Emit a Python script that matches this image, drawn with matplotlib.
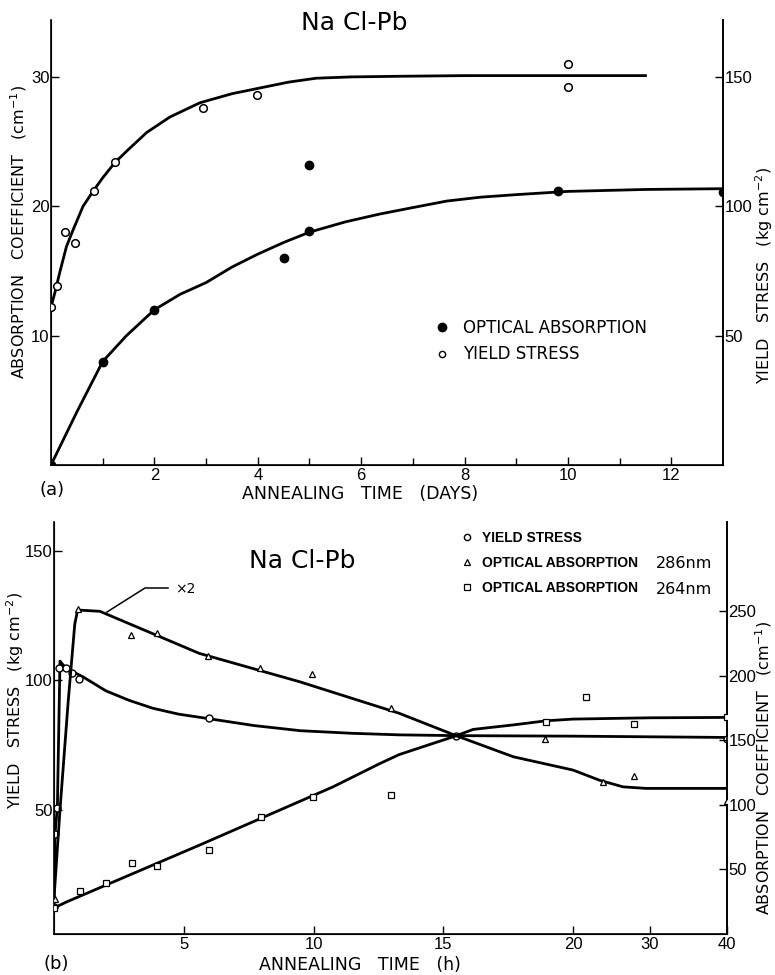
import numpy as np
import matplotlib
matplotlib.use("Agg")
import matplotlib.pyplot as plt
from matplotlib.lines import Line2D

plt.rcParams['font.family'] = ['DejaVu Sans']

# ---------------- Panel (a) data ----------------
# yield stress points (days, kg cm^-2)
a_ys_x = [0.0, 0.12, 0.28, 0.47, 0.84, 1.24, 2.94, 3.99, 10.0, 10.0]
a_ys_y = [61, 69, 90, 86, 106, 117, 138, 143, 155, 146]
# optical absorption points (days, cm^-1)
a_oa_x = [0.0, 1.0, 2.0, 4.5, 5.0, 5.0, 9.8, 13.0]
a_oa_y = [0.0, 8.0, 12.0, 16.0, 18.1, 23.2, 21.2, 21.1]
# fitted curves (left-axis units, cm^-1)
a_ys_cx = [0.0, 0.08, 0.17, 0.30, 0.43, 0.62, 0.82, 1.0, 1.24, 1.5, 1.85, 2.3, 2.88, 3.5, 4.17,
           4.6, 5.13, 5.8, 6.74, 8.0, 9.0, 10.0, 11.5]
a_ys_cy = [12.2, 13.4, 14.9, 16.9, 18.2, 20.0, 21.2, 22.2, 23.4, 24.4, 25.7, 26.9, 28.0, 28.7, 29.25,
           29.6, 29.9, 30.0, 30.05, 30.1, 30.1, 30.1, 30.1]
a_oa_cx = [0.0, 0.5, 1.0, 1.46, 2.0, 2.5, 3.0, 3.5, 4.0, 4.5, 5.0, 5.7, 6.36, 7.0, 7.65, 8.3, 9.0,
           10.0, 11.5, 13.0]
a_oa_cy = [0.0, 4.1, 8.0, 10.0, 12.0, 13.2, 14.1, 15.3, 16.3, 17.2, 18.0, 18.8, 19.4, 19.9, 20.4,
           20.7, 20.9, 21.15, 21.3, 21.36]

# ---------------- Panel (b) data ----------------
# yield stress (h, kg cm^-2)
b_ys_x = [0.0, 0.04, 0.13, 0.19, 0.45, 0.69, 0.96, 5.97, 15.48, 40.0]
b_ys_y = [12.4, 40.7, 50.6, 105, 105, 103, 100.6, 85.6, 78.7, 77.4]
b_ys_cx = [0.0, 0.04, 0.13, 0.23, 0.35, 0.6, 1.1, 2.0, 2.9, 3.8, 4.8, 6.0, 7.7, 9.5, 11.5, 13.3,
           15.5, 20.0, 40.0]
b_ys_cy = [13, 41, 51, 107.5, 106, 104, 101.5, 96, 92.3, 89.3, 87.0, 85.2, 82.6, 80.6, 79.6, 79.0,
           78.7, 78.5, 78.0]
# optical absorption 286 nm (h, cm^-1)
b_t_x = [0.04, 0.94, 2.96, 3.95, 5.94, 7.93, 9.96, 12.98, 18.9, 23.9, 27.9, 40.0]
b_t_y = [27.5, 251.6, 231.6, 233, 215.3, 205.8, 201.2, 174.8, 150.8, 117.9, 122.3, 103]
b_t_cx = [0.0, 0.23, 0.55, 0.8, 0.91, 1.77, 5.6, 9.47, 13.3, 15.5, 17.7, 20.0, 23.5, 26.5, 29.5,
          40.0]
b_t_cy = [27.5, 96, 181, 240, 251, 250, 217.4, 195.4, 171, 153.6, 137.3, 127, 119, 114, 112.8,
          112.8]
# optical absorption 264 nm (h, cm^-1)
b_s_x = [0.0, 1.0, 1.99, 2.99, 3.98, 5.98, 7.97, 9.98, 12.98, 18.95, 21.7, 27.9, 40.0]
b_s_y = [20.2, 33.4, 39.9, 55.1, 52.8, 65, 90.8, 106.3, 107.6, 164, 183.8, 162.4, 168.3]
b_s_cx = [0.0, 0.49, 5.6, 10.75, 12.55, 13.3, 15.5, 16.15, 17.7, 18.97, 20.0, 30.0, 40.0]
b_s_cy = [20.2, 24.9, 68.8, 114, 132, 139, 153.6, 158.5, 162, 165.2, 166.5, 167.5, 167.8]

W, H = 775, 975
fig = plt.figure(figsize=(W / 100, H / 100), dpi=100)

def fx(px):
    return px / W
def fy(py):
    return 1 - py / H

tick_fs = 12
lab_fs = 11.5
TICK_FAMILY = ['Liberation Sans', 'DejaVu Sans']

def narrow_ticks(ax):
    for lbl in ax.get_xticklabels() + ax.get_yticklabels():
        lbl.set_family(TICK_FAMILY)

# ================= Panel (a) =================
axa = fig.add_axes([fx(51), fy(465), (723 - 51) / W, (465 - 20) / H])
axa.set_xlim(0, 13)
axa.set_ylim(0, 34.4)
axa.spines['top'].set_visible(False)
for s in ['left', 'bottom', 'right']:
    axa.spines[s].set_linewidth(1.2)
axa.plot(a_ys_cx, a_ys_cy, color='black', lw=2)
axa.plot(a_oa_cx, a_oa_cy, color='black', lw=2)
axa.plot(a_oa_x, a_oa_y, 'o', color='black', ms=6, zorder=5)
axa.set_xticks([2, 4, 6, 8, 10, 12])
axa.set_xticks([1, 3, 5, 7, 9, 11], minor=True)
axa.set_yticks([10, 20, 30])
axa.tick_params(direction='in', length=6, width=1, labelsize=tick_fs, pad=2)
axa.tick_params(which='minor', direction='in', length=5, width=1)
axa.tick_params(axis='y', pad=1)
narrow_ticks(axa)

axa2 = axa.twinx()
axa2.set_ylim(0, 34.4 * 5)
axa2.spines['top'].set_visible(False)
axa2.spines['right'].set_linewidth(1.2)
axa2.plot(a_ys_x, a_ys_y, 'o', mfc='white', mec='black', ms=5.5, mew=1.1, zorder=5)
axa2.set_yticks([50, 100, 150])
axa2.tick_params(direction='in', length=6, width=1, labelsize=tick_fs, pad=1)
narrow_ticks(axa2)

fig.text(fx(354), fy(23), 'Na Cl-Pb', fontsize=18, ha='center', va='center')
fig.text(fx(19), fy(232), 'ABSORPTION   COEFFICIENT   (cm$^{-1}$)', rotation=90,
         fontsize=lab_fs, ha='center', va='center')
fig.text(fx(764), fy(276), 'YIELD   STRESS   (kg cm$^{-2}$)', rotation=90,
         fontsize=lab_fs, ha='center', va='center')
fig.text(fx(360), fy(494), 'ANNEALING   TIME   (DAYS)', fontsize=lab_fs + 1,
         ha='center', va='center')
fig.text(fx(52), fy(490), '(a)', fontsize=lab_fs + 1.5, ha='center', va='center')

leg_a = [Line2D([], [], ls='none', marker='o', color='black', ms=6),
         Line2D([], [], ls='none', marker='o', mfc='white', mec='black', ms=4.5, mew=1)]
axa.legend(leg_a, ['OPTICAL ABSORPTION', 'YIELD STRESS'], frameon=False,
           loc='upper left', bbox_to_anchor=(fx(434), fy(319)),
           bbox_transform=fig.transFigure, fontsize=12, handletextpad=0.75,
           labelspacing=0.5, handlelength=1.0, borderpad=0, borderaxespad=0)

# ================= Panel (b) =================
K = 0.2966
def fwd(x):
    x = np.asarray(x, dtype=float)
    return np.where(x <= 20, x, 20 + (x - 20) * K)
def inv(y):
    y = np.asarray(y, dtype=float)
    return np.where(y <= 20, y, 20 + (y - 20) / K)

axb = fig.add_axes([fx(54), fy(934), (727 - 54) / W, (934 - 522) / H])
axb.set_xscale('function', functions=(fwd, inv))
axb.set_xlim(0, 40)
axb.set_ylim(2.1, 161.2)
axb.spines['top'].set_visible(False)
for s in ['left', 'bottom', 'right']:
    axb.spines[s].set_linewidth(1.2)
axb.plot(b_ys_cx, b_ys_cy, color='black', lw=2)
axb.plot(b_ys_x, b_ys_y, 'o', mfc='white', mec='black', ms=5, mew=1, zorder=5)
axb.set_xticks([5, 10, 15, 20, 30, 40])
axb.set_xticklabels(['5', '10', '15', '20', '30', '40'])
axb.xaxis.set_minor_locator(matplotlib.ticker.NullLocator())
axb.set_yticks([50, 100, 150])
axb.tick_params(direction='in', length=6, width=1, labelsize=tick_fs, pad=2)
axb.tick_params(axis='y', pad=1)
narrow_ticks(axb)

axb2 = axb.twinx()
axb2.set_ylim(0, 319.2)
axb2.spines['top'].set_visible(False)
axb2.spines['right'].set_linewidth(1.2)
axb2.plot(b_t_cx, b_t_cy, color='black', lw=2)
axb2.plot(b_s_cx, b_s_cy, color='black', lw=2)
axb2.plot(b_t_x, b_t_y, '^', mfc='white', mec='black', ms=5, mew=0.9, zorder=5)
axb2.plot(b_s_x, b_s_y, 's', mfc='white', mec='black', ms=5, mew=0.9, zorder=5)
axb2.set_yticks([50, 100, 150, 200, 250])
axb2.tick_params(direction='in', length=6, width=1, labelsize=tick_fs, pad=1)
narrow_ticks(axb2)

fig.text(fx(302), fy(561), 'Na Cl-Pb', fontsize=18, ha='center', va='center')
fig.text(fx(15), fy(701), 'YIELD   STRESS   (kg cm$^{-2}$)', rotation=90,
         fontsize=lab_fs, ha='center', va='center')
fig.text(fx(764), fy(768), 'ABSORPTION   COEFFICIENT   (cm$^{-1}$)', rotation=90,
         fontsize=lab_fs, ha='center', va='center')
fig.text(fx(360), fy(965), 'ANNEALING   TIME   (h)', fontsize=lab_fs + 1,
         ha='center', va='center')
fig.text(fx(56), fy(964), '(b)', fontsize=lab_fs + 1.5, ha='center', va='center')

# "x2" annotation
fig.add_artist(Line2D([fx(107), fx(145), fx(168)], [fy(612), fy(588), fy(588)],
                      color='black', lw=1.1))
fig.text(fx(175), fy(589), '×2', fontsize=10, ha='left', va='center')

leg_font = {'family': ['Liberation Sans', 'DejaVu Sans'], 'weight': 'bold', 'size': 10}
leg_b = [Line2D([], [], ls='none', marker='o', mfc='white', mec='black', ms=4.5, mew=1),
         Line2D([], [], ls='none', marker='^', mfc='white', mec='black', ms=4, mew=0.9),
         Line2D([], [], ls='none', marker='s', mfc='white', mec='black', ms=4, mew=0.9)]
axb.legend(leg_b, ['YIELD STRESS', 'OPTICAL ABSORPTION', 'OPTICAL ABSORPTION'], frameon=False,
           loc='upper left', bbox_to_anchor=(fx(460), fy(531)),
           bbox_transform=fig.transFigure, prop=leg_font,
           handletextpad=0.6, labelspacing=0.8, handlelength=1.0, borderpad=0, borderaxespad=0)
fig.text(fx(656), fy(564), '286nm', fontsize=11.5, ha='left', va='center')
fig.text(fx(656), fy(589), '264nm', fontsize=11.5, ha='left', va='center')

fig.savefig('out.png', dpi=100)
